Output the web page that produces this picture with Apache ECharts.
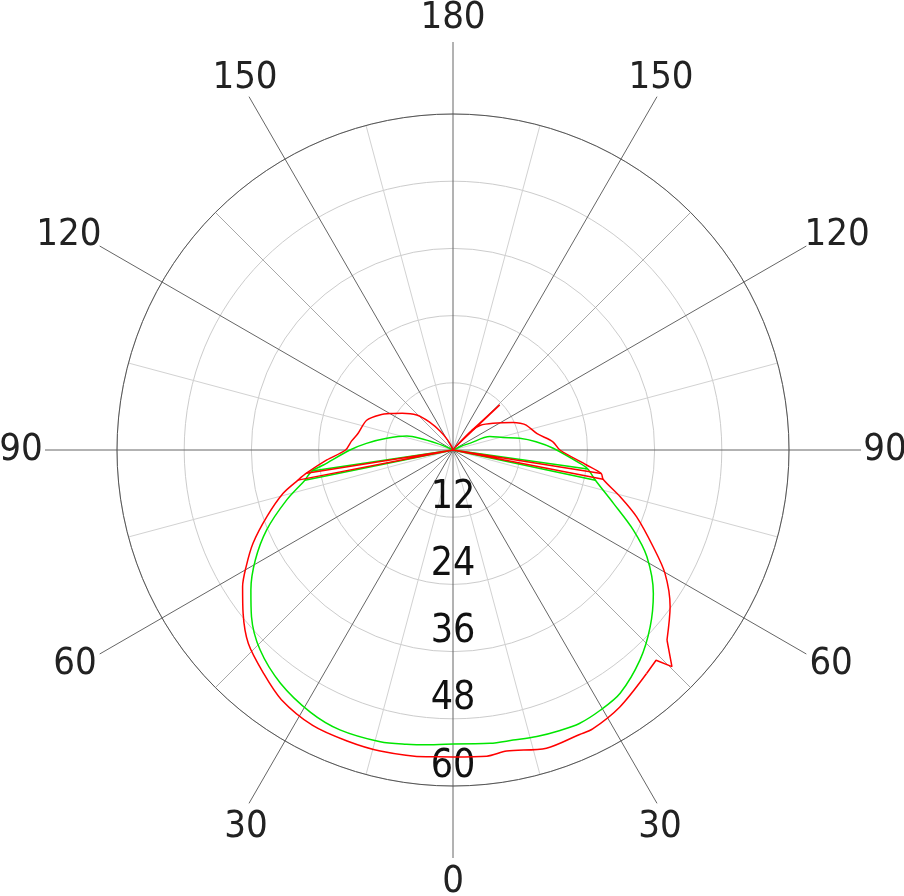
<!DOCTYPE html>
<html>
<head>
<meta charset="utf-8">
<script src="https://cdn.jsdelivr.net/npm/echarts@6/dist/echarts.min.js"></script>
<style>html,body{margin:0;padding:0;background:#fff}#c{width:904px;height:896px}</style>
</head>
<body>
<div id="c"></div>
<script>
// Angles: 0 = bottom, increasing clockwise (left half 0..180, right half 180..360)
const redAngles = [0, 5, 13.6, 20, 27, 34.5, 40.3, 46.6, 52.1, 57, 60.6, 65, 70.3, 75.7, 79, 81, 85.5, 90, 95, 100, 109, 115.6, 121.5, 126, 134, 140, 146, 152, 160, 180, 215, 220, 224, 228, 236.3, 245.5, 248.3, 251.2, 259, 265.3, 270, 276.4, 279, 281, 285.6, 290, 295.8, 300.2, 305.8, 311.6, null, 319.1, 327, 333.4, 336, 342.6, 349.9, 353.7, 360];
const redValues = [54.8, 55.0, 55.3, 55.3, 55.2, 54.1, 52.3, 50.3, 47.5, 44.8, 42.4, 39.4, 35.3, 31.3, 28.2, 26.5, 22.6, 19.2, 18.2, 17.2, 16.3, 14.5, 12.5, 11.2, 9.0, 6.5, 4.0, 2.0, 0.5, 0, 0.3, 1.0, 4.8, 6.6, 8.6, 11.8, 12.9, 13.8, 15.3, 17.9, 19.1, 24.0, 26.8, 27.3, 31.0, 34.9, 39.7, 43.8, 47.8, 51.1, null, 52.8, 54.7, 55.7, 55.6, 55.8, 54.6, 55.0, 54.8];
// sharp features of the red curve (drawn unsmoothed), null = gap
const redSharpAngles = [79, 80, 81, null, 220, 226, 224, null, 311.6, 314.7, 316, 319.1, null, 279, 280, 281];
const redSharpValues = [28.2, 0, 26.5, null, 1.0, 11.6, 4.8, null, 51.1, 55.0, 52.2, 52.8, null, 26.8, 0, 27.3];

const greenAngles = [0, 4.5, 9, 14, 22, 28.5, 36.5, 44, 50.4, 55.3, 60.9, 66.8, 73.3, 78.5, 81.5, 83.4, 90, 94.4, 100, 106.8, 109.5, 112.3, 118, 125, 180, 240, 245, 248.2, 250, 256, 260, 264.3, 269, 276, 278, 282, 288.4, 293.9, 298.8, 305.6, 311.9, 318.3, 325.5, 330.5, 335.2, 339.1, 343.7, 348.3, 352.8, 360];
const greenValues = [52.5, 52.8, 53.2, 53.7, 53.9, 53.3, 51.8, 49.6, 46.7, 43.9, 40.4, 36.2, 31.0, 27.0, 25.5, 23.3, 18.4, 15.5, 12.0, 8.6, 6.3, 3.1, 0.5, 0, 0, 0, 1.5, 3.2, 7.0, 9.2, 12.1, 14.9, 17.9, 22.8, 24.3, 26.0, 30.2, 35.2, 39.5, 44.0, 47.3, 50.2, 52.7, 53.4, 53.8, 53.6, 53.3, 52.9, 52.8, 52.5];
const greenSharpAngles = [78.5, 80, 81.5, null, 278, 280, 282];
const greenSharpValues = [27.0, 0, 25.5, null, 24.3, 0, 26.0];

const radiusTicks = [0, 12, 24, 36, 48, 60];
const angleTicks = [0, 30, 60, 90, 120, 150, 180, 210, 240, 270, 300, 330];
const angleTickLabels = ['0', '30', '60', '90', '120', '150', '180', '150', '120', '90', '60', '30'];

const FONT = '"DejaVu Sans Condensed", "DejaVu Sans", sans-serif';
const toPairs = (a, v) => a.map((ang, i) => (ang === null ? ['-', '-'] : [v[i], ang]));

// small layout nudges of the outer angle labels (px, left-side orientation; mirrored on the right)
const labelNudge = {0: [0, 0], 30: [9, 3], 60: [-4, -2], 90: [0, 0], 120: [-10, 1], 150: [8, 2], 180: [0, 0]};
const nudgeFor = a => {
  const base = a <= 180 ? a : 360 - a;
  const n = labelNudge[base] || [0, 0];
  return a <= 180 ? n : [-n[0], n[1]];
};

const chart = echarts.init(document.getElementById('c'), null, {renderer: 'canvas'});
const CX = 453, CY = 450;
const light = '#d2d2d2', mid = '#a8a8a8', none = 'rgba(0,0,0,0)';
const RED = '#ff0000', GREEN = '#00e600';
const lineSeries = (data, color, smooth, z) => ({
  type: 'line', coordinateSystem: 'polar', polarIndex: 0, data,
  showSymbol: false, symbol: 'none', smooth, connectNulls: false,
  lineStyle: {color, width: 1.5}, z
});
chart.setOption({
  animation: false,
  backgroundColor: '#fff',
  polar: [
    {center: [CX, CY], radius: 336},
    {center: [CX, CY], radius: 408},
    {center: [CX, CY], radius: 432}
  ],
  angleAxis: [
    {
      polarIndex: 0, type: 'value', min: 0, max: 360, interval: 15,
      startAngle: 270, clockwise: true,
      axisLine: {show: true, lineStyle: {color: '#555', width: 1}},
      axisTick: {show: false}, axisLabel: {show: false},
      splitLine: {show: true, lineStyle: {color: [none, light, none, mid, none, light], width: 1}}
    },
    {
      polarIndex: 1, type: 'value', min: 0, max: 360, interval: 30,
      startAngle: 270, clockwise: true,
      axisLine: {show: false}, axisTick: {show: false}, axisLabel: {show: false},
      splitLine: {show: true, lineStyle: {color: '#666', width: 1}}
    },
    {
      polarIndex: 2, type: 'value', min: 0, max: 360, startAngle: 270, clockwise: true, show: false
    }
  ],
  radiusAxis: [
    {
      polarIndex: 0, type: 'value', min: radiusTicks[0], max: radiusTicks[radiusTicks.length - 1], interval: 12,
      axisLine: {show: false}, axisTick: {show: false},
      splitLine: {show: true, lineStyle: {color: '#cccccc', width: 1}},
      axisLabel: {
        show: true, margin: 0, color: '#111', fontSize: 39, fontFamily: FONT,
        align: 'center', verticalAlign: 'bottom',
        showMinLabel: false,
        formatter: v => (v === 0 ? '' : String(v))
      }
    },
    {polarIndex: 1, type: 'value', min: 0, max: 60, show: false},
    {polarIndex: 2, type: 'value', min: 0, max: 1, show: false}
  ],
  series: [
    lineSeries(toPairs(greenAngles, greenValues), GREEN, 0.3, 3),
    lineSeries(toPairs(greenSharpAngles, greenSharpValues), GREEN, false, 3),
    lineSeries(toPairs(redAngles, redValues), RED, 0.3, 4),
    lineSeries(toPairs(redSharpAngles, redSharpValues), RED, false, 4),
    {
      type: 'scatter', coordinateSystem: 'polar', polarIndex: 2,
      symbolSize: 1, itemStyle: {color: 'rgba(0,0,0,0)', opacity: 1}, silent: true,
      data: angleTicks.map((a, i) => ({
        name: angleTickLabels[i], value: [1, a],
        label: {offset: nudgeFor(a)}
      })),
      label: {
        show: true, position: 'inside', formatter: '{b}', opacity: 1,
        color: '#222', fontSize: 38, fontFamily: FONT, textBorderWidth: 0
      }
    }
  ]
});
</script>
</body>
</html>
